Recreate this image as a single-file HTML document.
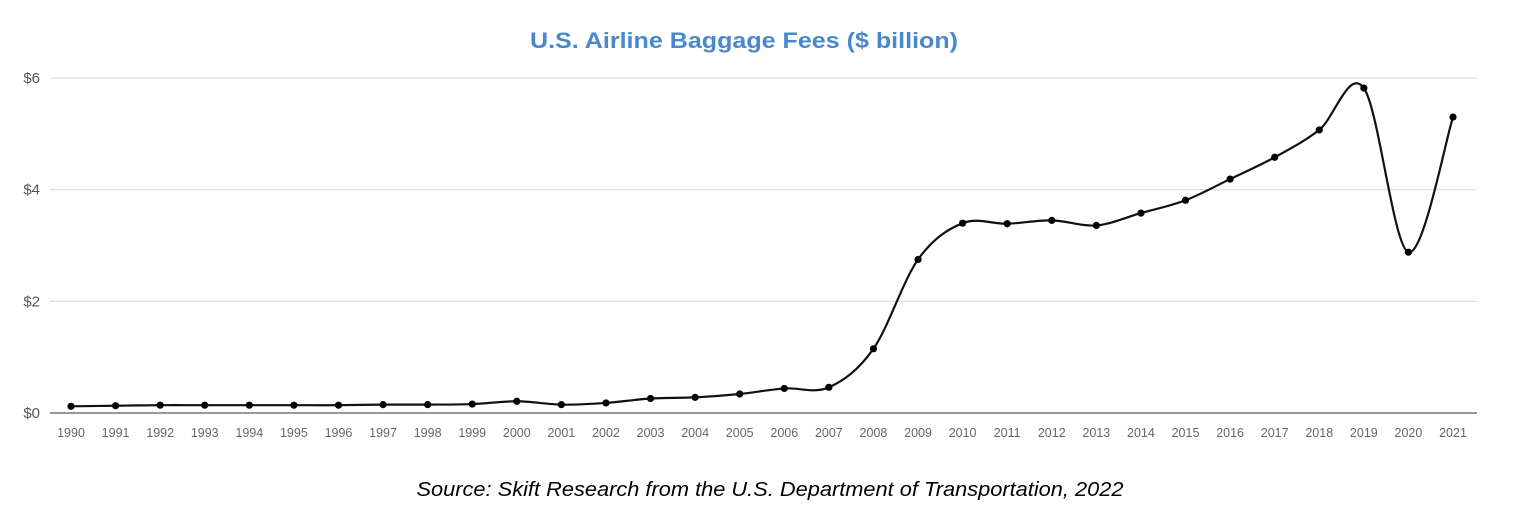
<!DOCTYPE html>
<html><head><meta charset="utf-8"><style>
html,body{margin:0;padding:0;background:#fff;width:1516px;height:520px;overflow:hidden}
svg{display:block}
</style></head><body>
<svg id="chart" width="1516" height="520" xmlns="http://www.w3.org/2000/svg">
<text x="744" y="48" text-anchor="middle" textLength="428" lengthAdjust="spacingAndGlyphs" font-family="Liberation Sans, sans-serif" font-weight="bold" font-size="22" fill="#4a88cc">U.S. Airline Baggage Fees ($ billion)</text>
<g id="grid"></g><g id="xlabels"></g><g id="series"></g>
<text x="770" y="496" text-anchor="middle" textLength="707" lengthAdjust="spacingAndGlyphs" font-family="Liberation Sans, sans-serif" font-style="italic" font-size="20" fill="#000">Source: Skift Research from the U.S. Department of Transportation, 2022</text>
</svg>
<script>
const years=[1990,1991,1992,1993,1994,1995,1996,1997,1998,1999,2000,2001,2002,2003,2004,2005,2006,2007,2008,2009,2010,2011,2012,2013,2014,2015,2016,2017,2018,2019,2020,2021];
const fees=[0.12,0.13,0.14,0.14,0.14,0.14,0.14,0.15,0.15,0.16,0.21,0.15,0.18,0.26,0.28,0.34,0.44,0.46,1.15,2.75,3.40,3.39,3.45,3.36,3.58,3.81,4.19,4.58,5.07,5.82,2.88,5.30];
const yTicks=[0,2,4,6];
const yTickLabels=["$0","$2","$4","$6"];
const NS="http://www.w3.org/2000/svg";
const x0=71,x1=1453,y0=413,yTop=78;
function xs(i){return x0+(x1-x0)*i/(years.length-1);}
function ys(v){return y0-(y0-yTop)*v/6;}
function mk(t,a,p){const e=document.createElementNS(NS,t);for(const k in a)e.setAttribute(k,a[k]);p.appendChild(e);return e;}
const grid=document.getElementById('grid');
yTicks.forEach((v,i)=>{
 const l=mk('line',{x1:50,x2:1477,y1:ys(v),y2:ys(v),stroke:v===0?'#999':'#ddd','stroke-width':v===0?2:1.2},grid);
 
 
 const t=mk('text',{x:40,y:ys(v)+5,'text-anchor':'end','font-family':'Liberation Sans, sans-serif','font-size':15,fill:'#555'},grid);
 t.textContent=yTickLabels[i];
 
 
});
const xl=document.getElementById('xlabels');
years.forEach((y,i)=>{
 const t=mk('text',{x:xs(i),y:437,'text-anchor':'middle','font-family':'Liberation Sans, sans-serif','font-size':12.5,fill:'#666'},xl);
 t.textContent=y;
 
 
});
const pts=fees.map((v,i)=>[xs(i),ys(v)]);
let d='M'+pts[0][0]+','+pts[0][1];
for(let i=0;i<pts.length-1;i++){
 const p0=pts[Math.max(0,i-1)],p1=pts[i],p2=pts[i+1],p3=pts[Math.min(pts.length-1,i+2)];
 const c1=[p1[0]+(p2[0]-p0[0])/6,p1[1]+(p2[1]-p0[1])/6];
 const c2=[p2[0]-(p3[0]-p1[0])/6,p2[1]-(p3[1]-p1[1])/6];
 d+=' C'+c1[0]+','+c1[1]+' '+c2[0]+','+c2[1]+' '+p2[0]+','+p2[1];
}
const ser=document.getElementById('series');
const path=mk('path',{d:d,fill:'none',stroke:'#111','stroke-width':2.2},ser);


pts.forEach((p,i)=>{
 const c=mk('circle',{cx:p[0],cy:p[1],r:3.6,fill:'#000'},ser);
 
 
});
</script>
</body></html>
